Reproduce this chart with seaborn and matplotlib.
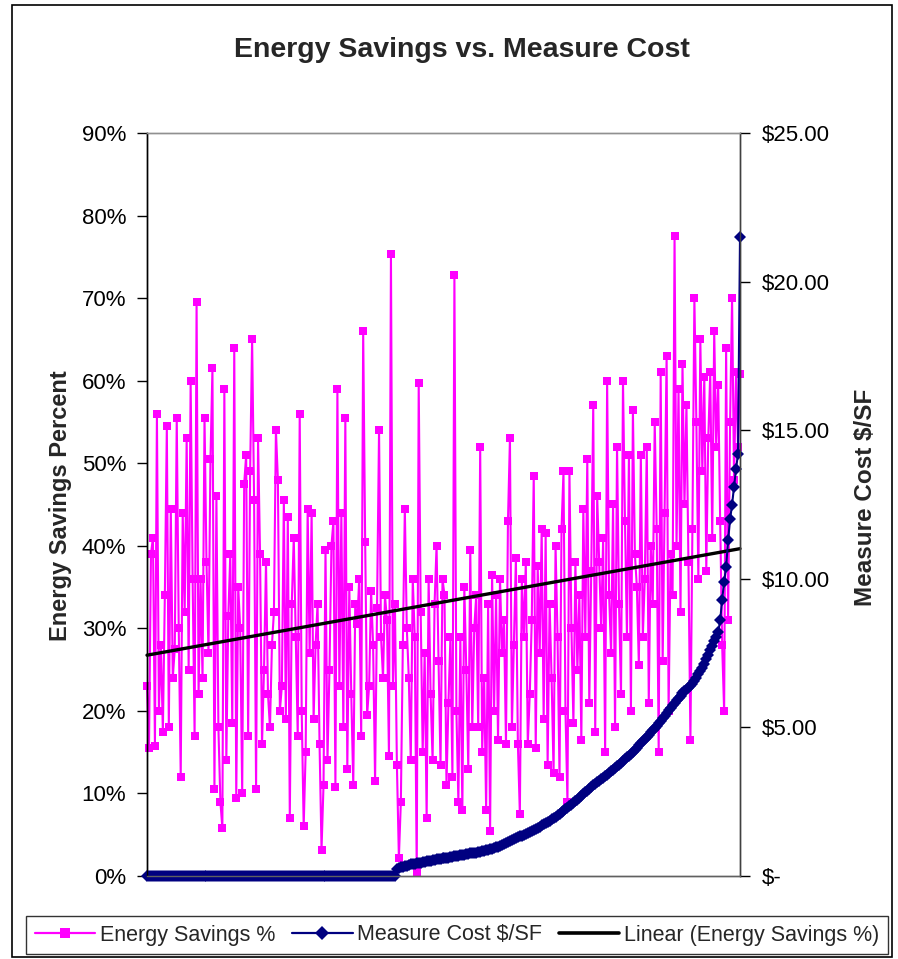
import matplotlib
matplotlib.use("Agg")
import matplotlib.pyplot as plt
from matplotlib.lines import Line2D
from matplotlib.patches import Rectangle
from matplotlib.ticker import FuncFormatter
import numpy as np
import pandas as pd
import seaborn as sns

# ---------------- data ----------------
title = "Energy Savings vs. Measure Cost"
left_label = "Energy Savings Percent"
right_label = "Measure Cost $/SF"
series_names = ["Energy Savings %", "Measure Cost $/SF", "Linear (Energy Savings %)"]

sav_a = [23.0, 15.5, 39.0, 41.0, 15.8, 56.0, 20.0, 28.0, 17.5, 34.0, 54.5, 18.0, 44.5,
         24.0, 27.5, 55.5, 30.0, 12.0, 44.0, 32.0, 53.0, 25.0, 60.0, 36.0, 17.0]
sav_b = [69.5, 22.0, 36.0, 24.0, 55.5, 38.0, 27.0, 50.5, 61.5, 10.5, 46.0, 18.0, 9.0,
         5.8, 59.0, 14.0, 31.5, 39.0, 18.5, 64.0, 9.5, 35.0, 30.0, 10.0, 47.5]
sav_c = [51.0, 17.0, 49.0, 65.0, 45.5, 10.5, 53.0, 39.0, 16.0, 25.0, 38.0, 22.0, 18.0,
         28.0, 32.0, 54.0, 48.0, 20.0, 23.0, 45.5, 19.0, 43.5, 7.0, 33.0, 41.0]
sav_d = [29.0, 17.0, 56.0, 20.0, 6.0, 15.0, 44.5, 27.0, 44.0, 19.0, 28.0, 33.0, 16.0,
         3.2, 11.0, 39.5, 14.0, 25.0, 40.0, 43.0, 10.8, 59.0, 23.0, 44.0, 18.0]
sav_e = [55.5, 13.0, 35.0, 22.0, 11.0, 33.0, 30.5, 36.0, 17.0, 66.0, 40.5, 19.5, 23.0,
         34.5, 28.0, 11.5, 32.5, 54.0, 29.0, 24.0, 34.0, 31.0, 14.5, 75.3, 23.0]
sav_f = [33.0, 13.5, 2.2, 9.0, 28.0, 44.5, 30.0, 24.0, 14.0, 36.0, 29.0, 0.5, 59.7,
         32.0, 15.0, 27.0, 7.0, 36.0, 22.0, 14.0, 33.0, 40.0, 26.0, 13.5, 36.0]
sav_g = [34.0, 11.0, 21.0, 29.0, 12.0, 72.8, 20.0, 9.0, 29.0, 8.0, 35.0, 25.0, 13.0,
         39.5, 18.0, 30.0, 34.0, 18.0, 52.0, 15.0, 24.0, 8.0, 33.0, 5.5, 36.5]
sav_h = [20.0, 34.0, 16.5, 36.0, 27.0, 31.0, 16.0, 43.0, 53.0, 18.0, 28.0, 38.5, 16.0,
         7.5, 36.0, 29.0, 38.0, 16.0, 22.0, 31.0, 48.5, 15.5, 37.5, 27.0, 42.0]
sav_i = [19.0, 41.5, 13.5, 33.0, 24.0, 12.5, 40.0, 29.0, 12.0, 42.0, 49.0, 20.0, 9.0,
         49.0, 30.0, 18.5, 38.0, 25.0, 34.0, 16.5, 44.5, 29.0, 50.5, 21.0, 37.0]
sav_j = [57.0, 17.5, 46.0, 38.0, 30.0, 41.0, 15.0, 60.0, 34.0, 27.0, 45.0, 18.0, 52.0,
         33.0, 22.0, 60.0, 43.0, 29.0, 51.0, 20.0, 56.5, 39.0, 35.0, 25.5, 51.0]
sav_k = [29.0, 36.0, 52.0, 21.0, 40.0, 33.0, 55.0, 42.0, 15.0, 61.0, 26.0, 44.0, 63.0,
         20.0, 39.0, 34.0, 77.5, 40.0, 59.0, 32.0, 62.0, 45.0, 57.0, 38.0, 16.5]
sav_l = [42.0, 70.0, 55.0, 36.0, 65.0, 49.0, 60.5, 37.0, 53.0, 61.0, 41.0, 66.0, 52.0,
         59.5, 43.0, 28.0, 20.0, 64.0, 31.0, 55.0, 70.0, 48.0, 61.0, 52.0, 60.8]

cost_zero = [0.0, 0.0, 0.0, 0.0, 0.0, 0.0, 0.0, 0.0, 0.0, 0.0, 0.0, 0.0, 0.0, 0.0, 0.0, 0.0, 0.0, 0.0, 0.0, 0.0, 0.0, 0.0, 0.0, 0.0, 0.0,
             0.0, 0.0, 0.0, 0.0, 0.0, 0.0, 0.0, 0.0, 0.0, 0.0, 0.0, 0.0, 0.0, 0.0, 0.0, 0.0, 0.0, 0.0, 0.0, 0.0, 0.0, 0.0, 0.0, 0.0, 0.0,
             0.0, 0.0, 0.0, 0.0, 0.0, 0.0, 0.0, 0.0, 0.0, 0.0, 0.0, 0.0, 0.0, 0.0, 0.0, 0.0, 0.0, 0.0, 0.0, 0.0, 0.0, 0.0, 0.0, 0.0, 0.0,
             0.0, 0.0, 0.0, 0.0, 0.0, 0.0, 0.0, 0.0, 0.0, 0.0, 0.0, 0.0, 0.0, 0.0, 0.0, 0.0, 0.0, 0.0, 0.0, 0.0, 0.0, 0.0, 0.0, 0.0, 0.0,
             0.0, 0.0, 0.0, 0.0, 0.0, 0.0, 0.0, 0.0, 0.0, 0.0, 0.0, 0.0, 0.0, 0.0, 0.0, 0.0, 0.0, 0.0, 0.0, 0.0, 0.0, 0.0, 0.0, 0.0, 0.0]
cost_low = [0.00, 0.22, 0.26, 0.29, 0.31, 0.33, 0.35, 0.37, 0.39, 0.40,
            0.42, 0.43, 0.44, 0.45, 0.46, 0.48, 0.49, 0.50, 0.51, 0.53,
            0.54, 0.56, 0.57, 0.58, 0.59, 0.60, 0.61, 0.62, 0.64, 0.65,
            0.66, 0.67, 0.68, 0.70, 0.71, 0.72, 0.73, 0.74, 0.76, 0.77,
            0.78, 0.79, 0.81, 0.82, 0.84, 0.85, 0.87, 0.88, 0.90, 0.92]
cost_mid = [0.94, 0.96, 0.99, 1.02, 1.05, 1.08, 1.11, 1.14, 1.18, 1.21,
            1.25, 1.28, 1.31, 1.33, 1.36, 1.39, 1.42, 1.45, 1.48, 1.51,
            1.54, 1.58, 1.62, 1.66, 1.70, 1.74, 1.78, 1.82, 1.86, 1.91,
            1.95, 2.00, 2.05, 2.10, 2.15, 2.20, 2.25, 2.30, 2.35, 2.40,
            2.45, 2.51, 2.57, 2.63, 2.69, 2.75, 2.81, 2.87, 2.93, 2.99]
cost_high = [3.05, 3.10, 3.15, 3.20, 3.25, 3.30, 3.35, 3.41, 3.46, 3.52,
             3.57, 3.63, 3.69, 3.75, 3.81, 3.87, 3.93, 3.99, 4.05, 4.11,
             4.17, 4.25, 4.32, 4.40, 4.47, 4.55, 4.62, 4.69, 4.76, 4.83,
             4.90, 4.98, 5.06, 5.14, 5.22, 5.30, 5.39, 5.48, 5.57, 5.66,
             5.75, 5.83, 5.91, 5.99, 6.07, 6.15, 6.21, 6.27, 6.33, 6.39]
cost_top = [6.45, 6.56, 6.67, 6.78, 6.89, 7.00, 7.15, 7.30, 7.45, 7.60,
            7.75, 7.90, 8.05, 8.20, 8.6, 9.3, 9.9, 10.4, 11.3, 12.0,
            12.5, 13.1, 13.7, 14.2, 21.5]

left_ticks = [0, 10, 20, 30, 40, 50, 60, 70, 80, 90]
right_ticks = [0, 5, 10, 15, 20, 25]

savings = (sav_a + sav_b + sav_c + sav_d + sav_e + sav_f + sav_g + sav_h
           + sav_i + sav_j + sav_k + sav_l)
cost = cost_zero + cost_low + cost_mid + cost_high + cost_top
n = min(len(savings), len(cost))
df = pd.DataFrame({"idx": np.arange(n), "savings": savings[:n], "cost": cost[:n]})

# ---------------- styling ----------------
sns.set_style("ticks")
plt.rcParams["font.family"] = ["Liberation Sans", "DejaVu Sans"]

PINK = "#FF00FF"
NAVY = "#000080"

W, H = 898, 959
fig = plt.figure(figsize=(W / 100, H / 100), dpi=100)
fig.patch.set_facecolor("white")

# outer chart frame
fig.add_artist(Rectangle((12 / W, 1 - 957 / H), (892 - 12) / W, (957 - 5) / H,
                         transform=fig.transFigure, fill=False, edgecolor="black",
                         linewidth=1.2))

ax_l, ax_r, ax_t, ax_b = 147, 740, 133, 876
ax = fig.add_axes([ax_l / W, 1 - ax_b / H, (ax_r - ax_l) / W, (ax_b - ax_t) / H])
ax.set_facecolor("white")

sns.lineplot(data=df, x="idx", y="savings", ax=ax, color=PINK, marker="s",
             markersize=5.8, markeredgewidth=0, linewidth=1.5, sort=False,
             estimator=None, legend=False)
sns.regplot(data=df, x="idx", y="savings", ax=ax, scatter=False, ci=None,
            color="black", line_kws={"linewidth": 2.4}, truncate=True)

ax2 = ax.twinx()
sns.lineplot(data=df, x="idx", y="cost", ax=ax2, color=NAVY, marker="D",
             markersize=6.5, markeredgewidth=0, linewidth=1.5, sort=False,
             estimator=None, legend=False)

for a in (ax, ax2):
    for ln in a.lines:
        ln.set_clip_on(False)

ax.set_xlim(0, n - 1)
ax.set_ylim(0, 90)
ax2.set_ylim(0, 25)
ax.set_xticks([])
ax.set_xlabel("")
ax.set_ylabel("")
ax2.set_ylabel("")

ax.set_yticks(left_ticks)
ax.yaxis.set_major_formatter(FuncFormatter(lambda v, p: f"{int(round(v))}%"))
ax2.set_yticks(right_ticks)
ax2.yaxis.set_major_formatter(
    FuncFormatter(lambda v, p: "$-" if abs(v) < 1e-9 else f"${v:,.2f}"))

ax.tick_params(axis="y", direction="out", length=7, width=1, colors="black",
               labelsize=16, pad=8)
ax2.tick_params(axis="y", direction="out", length=7, width=1, colors="black",
                labelsize=16, pad=8.5)

for a in (ax, ax2):
    for s in a.spines.values():
        s.set_visible(True)
        s.set_linewidth(1.0)
ax.spines["left"].set_color("black")
ax2.spines["right"].set_color("#404040")
ax.spines["bottom"].set_color("#606060")
ax.spines["top"].set_color("#909090")
ax.spines["right"].set_color("#404040")
ax2.spines["top"].set_color("#909090")
ax2.spines["left"].set_color("black")
ax2.spines["bottom"].set_color("#606060")

fig.text(462 / W, 1 - 50 / H, title, ha="center", va="center",
         fontsize=20.5, fontweight="bold")
fig.text(60 / W, 1 - 506 / H, left_label, ha="center", va="center",
         rotation=90, fontsize=17, fontweight="bold")
fig.text(865 / W, 1 - 497 / H, right_label, ha="center", va="center",
         rotation=90, fontsize=17.5, fontweight="bold")

handles = [
    Line2D([], [], color=PINK, marker="s", markersize=7, markeredgewidth=0, linewidth=1.6),
    Line2D([], [], color=NAVY, marker="D", markersize=7, markeredgewidth=0, linewidth=1.6),
    Line2D([], [], color="black", linewidth=2.6),
]
leg = fig.legend(handles, series_names, loc="center", ncol=3,
                 bbox_to_anchor=(457 / W, 1 - 935 / H), frameon=True,
                 fancybox=False, shadow=False, fontsize=15.5, handlelength=2.8,
                 handletextpad=0.2, columnspacing=0.8, borderpad=0.4,
                 borderaxespad=0)
leg.get_frame().set_edgecolor("black")
leg.get_frame().set_linewidth(1.0)

fig.savefig("out.png", dpi=100, facecolor="white")
